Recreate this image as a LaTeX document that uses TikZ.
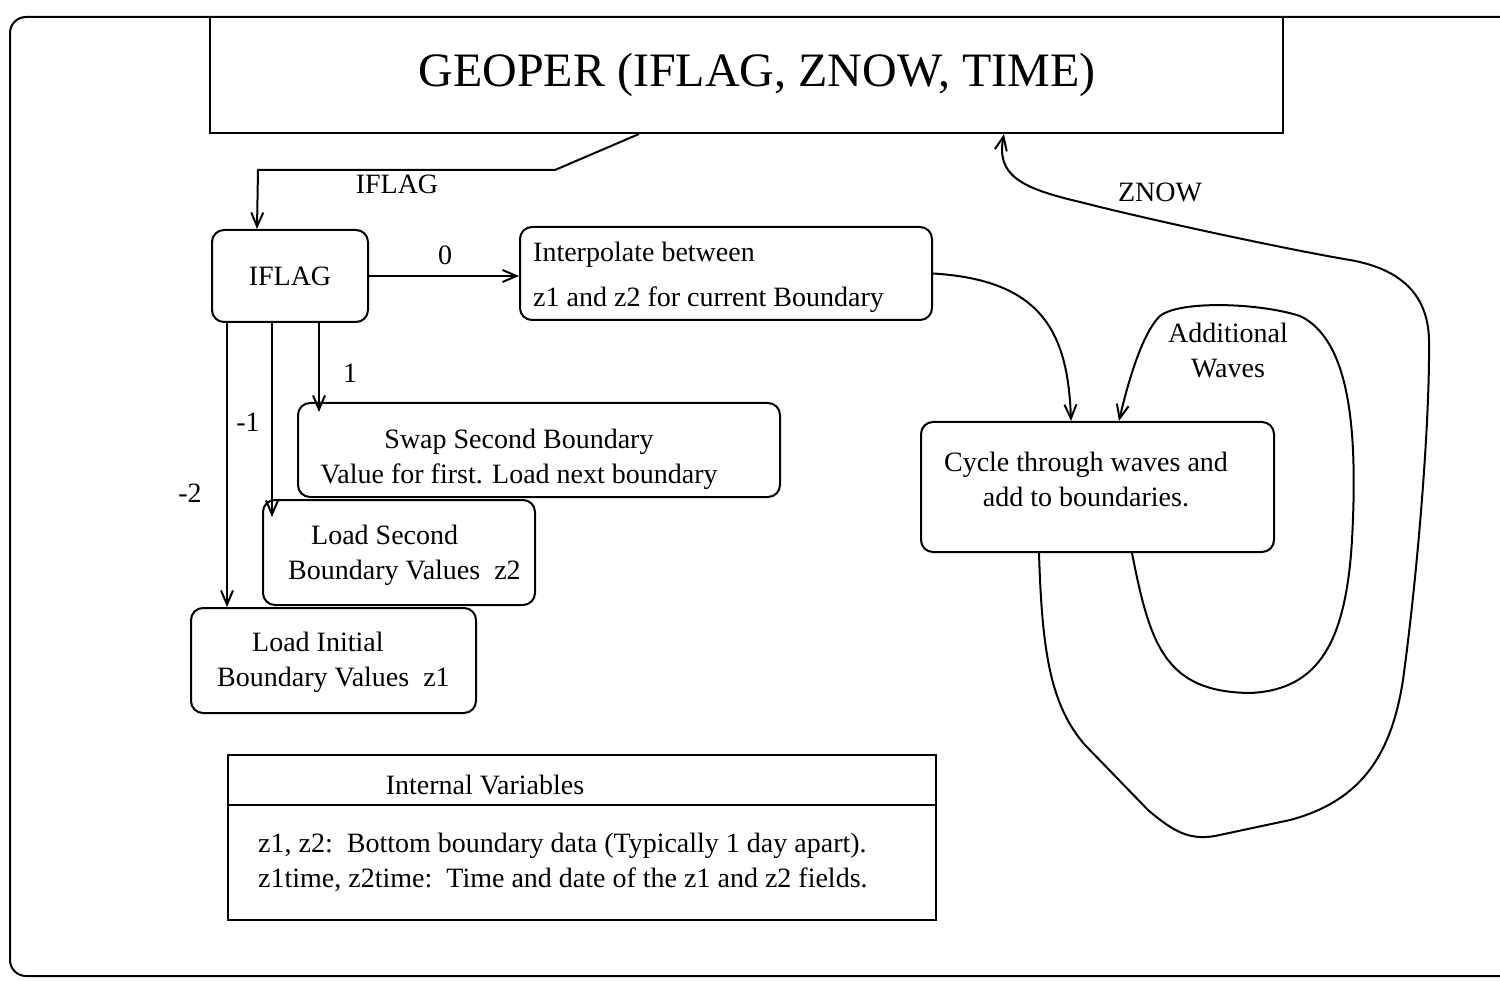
\documentclass[tikz,border=0pt]{standalone}
\usepackage{fontspec}
\setmainfont{Liberation Serif}
\usetikzlibrary{arrows.meta,calc}
\begin{document}
\begin{tikzpicture}[x=1pt,y=-1pt,
  box/.style={draw, fill=white, rounded corners=12pt, line width=2pt, inner sep=0pt, font=\fontsize{28}{35}\selectfont},
  sq/.style={draw, fill=white, line width=2pt, inner sep=0pt, font=\fontsize{28}{35}\selectfont},
  txt/.style={inner sep=0pt, font=\fontsize{28}{35}\selectfont},
  arr/.style={draw, line width=2pt, -{Straight Barb[length=14pt,width=12pt]}},
  wire/.style={draw, line width=2pt}]
\useasboundingbox (0,0) rectangle (1500,981);
% outer frame
\draw[line width=2pt, rounded corners=16pt] (1520,17) -- (10,17) -- (10,976) -- (1520,976);
% boxes
\node[sq, minimum width=1073pt, minimum height=116pt, font=\fontsize{48}{56}\selectfont] (geoper) at (746.5,75) {\hspace*{21pt}GEOPER (IFLAG, ZNOW, TIME)};
\node[box, minimum width=156pt, minimum height=92pt] (iflag) at (290,276) {IFLAG};
\node[box, minimum width=412pt, minimum height=93pt] (interp) at (726,273.5) {};
\node[box, minimum width=482pt, minimum height=94pt] (swap) at (539,450) {};
\node[box, minimum width=272pt, minimum height=105pt] (lsec) at (399,552.5) {};
\node[box, minimum width=285pt, minimum height=105pt] (linit) at (333.5,660.5) {};
\node[box, minimum width=353pt, minimum height=130pt] (cycle) at (1097.5,487) {};
\node[sq, minimum width=708pt, minimum height=50pt] (ivtitle) at (582,780) {};
\node[sq, minimum width=708pt, minimum height=115pt] (ivbody) at (582,862.5) {};
% texts in boxes
\node[txt, anchor=west, align=left] (interpt) at (533,277) {Interpolate between\\[10pt]z1 and z2 for current Boundary};
\node[txt, align=center] (swapt) at (519,459.5) {Swap Second Boundary\\Value for first. Load next boundary};
\node[txt, anchor=west, align=left] (lsect) at (288,555.5) {\hspace*{23pt}Load Second\\Boundary Values\ \ z2};
\node[txt, anchor=west, align=left] (linitt) at (217,662.5) {\hspace*{35pt}Load Initial\\Boundary Values\ \ z1};
\node[txt, align=center] (cyclet) at (1086,479.5) {Cycle through waves and\\add to boundaries.};
\node[txt] (ivtitlet) at (485,785) {Internal Variables};
\node[txt, anchor=west, align=left] (ivbodyt) at (258,862.5) {z1, z2:\ \ Bottom boundary data (Typically 1 day apart).\\z1time, z2time:\ \ Time and date of the z1 and z2 fields.};
% connectors
\draw[arr] ([xshift=430pt]geoper.south west) -- (555,170) -- (258,170) -- ([xshift=46pt]iflag.north west);
\draw[arr] (iflag.east) -- (iflag.east -| interp.west);
\draw[arr, shorten >=-10pt] ([xshift=108pt]iflag.south west) -- ([xshift=22pt]swap.north west);
\draw[arr, shorten >=-18pt] ([xshift=61pt]iflag.south west) -- ([xshift=10pt]lsec.north west);
\draw[arr] ([xshift=16pt]iflag.south west) -- ([xshift=37pt]linit.north west);
\draw[arr] (interp.east) .. controls (1040,280) and (1068,330) .. ([xshift=151pt]cycle.north west);
\draw[arr] ([xshift=212pt]cycle.south west) .. controls (1150,645) and (1165,692) .. (1250,693)
  .. controls (1320,690) and (1346,640) .. (1352,540)
  .. controls (1358,430) and (1350,340) .. (1300,316)
  .. controls (1260,303) and (1180,300) .. (1160,316)
  .. controls (1140,335) and (1125,395) .. ([xshift=199pt]cycle.north west);
\draw[arr] ([xshift=119pt]cycle.south west) .. controls (1042,650) and (1050,705) .. (1085,745)
  -- (1148,810)
  .. controls (1175,833) and (1190,840) .. (1215,836)
  -- (1290,820)
  .. controls (1365,800) and (1392,750) .. (1403,680)
  .. controls (1418,570) and (1430,420) .. (1429,340)
  .. controls (1428,290) and (1395,268) .. (1350,260)
  .. controls (1290,250) and (1150,220) .. (1080,202)
  .. controls (1020,188) and (996,175) .. ([xshift=795pt]geoper.south west);
% labels
\node[txt] (lbiflag) at (397,184) {IFLAG};
\node[txt] (lb0) at (445,255) {0};
\node[txt] (lb1) at (350,373) {1};
\node[txt] (lbm1) at (248,422) {-1};
\node[txt] (lbm2) at (190,493) {-2};
\node[txt] (lbznow) at (1160,192) {ZNOW};
\node[txt, align=center] (lbadd) at (1228,350) {Additional\\Waves};
\end{tikzpicture}
\end{document}
